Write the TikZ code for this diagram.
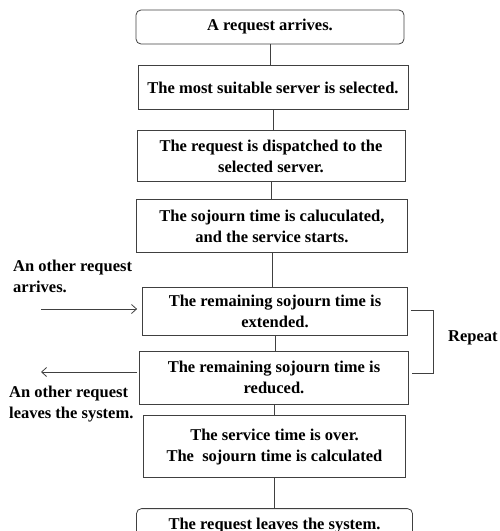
\documentclass[tikz,border=0pt]{standalone}
\usepackage{fontspec}
\setmainfont{Liberation Serif}
\usetikzlibrary{positioning,arrows.meta}
\begin{document}
\begin{tikzpicture}[
	font=\fontsize{16.5}{21}\selectfont\bfseries,
	line/.style={draw=black!75, line width=0.8pt},
	stepbox/.style={line, align=center, inner sep=0pt},
	endbox/.style={stepbox, rounded corners=5pt},
	note/.style={align=left, inner sep=0pt, anchor=north west}
	]
	\useasboundingbox (0,0) rectangle (499pt,-531pt);

	\node (arrive) [endbox, minimum width=268pt, minimum height=34pt] at (270pt,-27pt) {A request arrives.};
	\node (select) [stepbox, minimum width=270pt, minimum height=44pt, below=21pt of arrive, xshift=3pt] {The most suitable server is selected.};
	\node (dispatch) [stepbox, minimum width=268pt, minimum height=51pt, below=20pt of select, xshift=-2pt] {The request is dispatched to the\\selected server.};
	\node (start) [stepbox, minimum width=271pt, minimum height=53pt, below=17pt of dispatch, xshift=1pt] {The sojourn time is caluculated,\\and the service starts.};
	\node (extend) [stepbox, minimum width=265pt, minimum height=48pt, below=34pt of start, xshift=3pt] {The remaining sojourn time is\\extended.};
	\node (reduce) [stepbox, minimum width=269pt, minimum height=53pt, below=15pt of extend, xshift=-1pt] {The remaining sojourn time is\\reduced.};
	\node (over) [stepbox, minimum width=262pt, minimum height=62pt, below=11pt of reduce, xshift=0.5pt] {The service time is over.\\The\ \ sojourn time is calculated};
	\node (leave) [endbox, minimum width=276pt, minimum height=34pt, below=30pt of over] {The request leaves the system.};

	\draw[line] (arrive.south) -- (arrive.south |- select.north);
	\draw[line] (select.south) -- (select.south |- dispatch.north);
	\draw[line] (dispatch.south) -- (dispatch.south |- start.north);
	\draw[line] (start.south) -- (start.south |- extend.north);
	\draw[line] (extend.south) -- (extend.south |- reduce.north);
	\draw[line] (reduce.south) -- (reduce.south |- over.north);
	\draw[line] (over.south) -- (over.south |- leave.north);

	% requests coming in and going out
	\node (arrtext) [note] at (13pt,-260pt) {An other request\\arrives.};
	\coordinate (arrin) at (41pt,-309pt);
	\draw[line, -{Straight Barb[length=5pt,width=9pt]}] (arrin) -- ([xshift=-5pt]extend.west |- arrin);
	\node (lvtext) [note] at (9pt,-386pt) {An other request\\leaves the system.};
	\coordinate (arrout) at (41pt,-372pt);
	\draw[line, -{Straight Barb[length=5pt,width=9pt]}] ([xshift=-2pt]reduce.west |- arrout) -- (arrout);

	% repeat bracket
	\draw[line] ([xshift=3pt, yshift=1pt]extend.east) -- ++(22pt,0) |- ([xshift=3pt, yshift=4pt]reduce.east);
	\node (repeat) [anchor=base west, inner sep=0pt] at (448pt,-341pt) {Repeat};
\end{tikzpicture}
\end{document}
